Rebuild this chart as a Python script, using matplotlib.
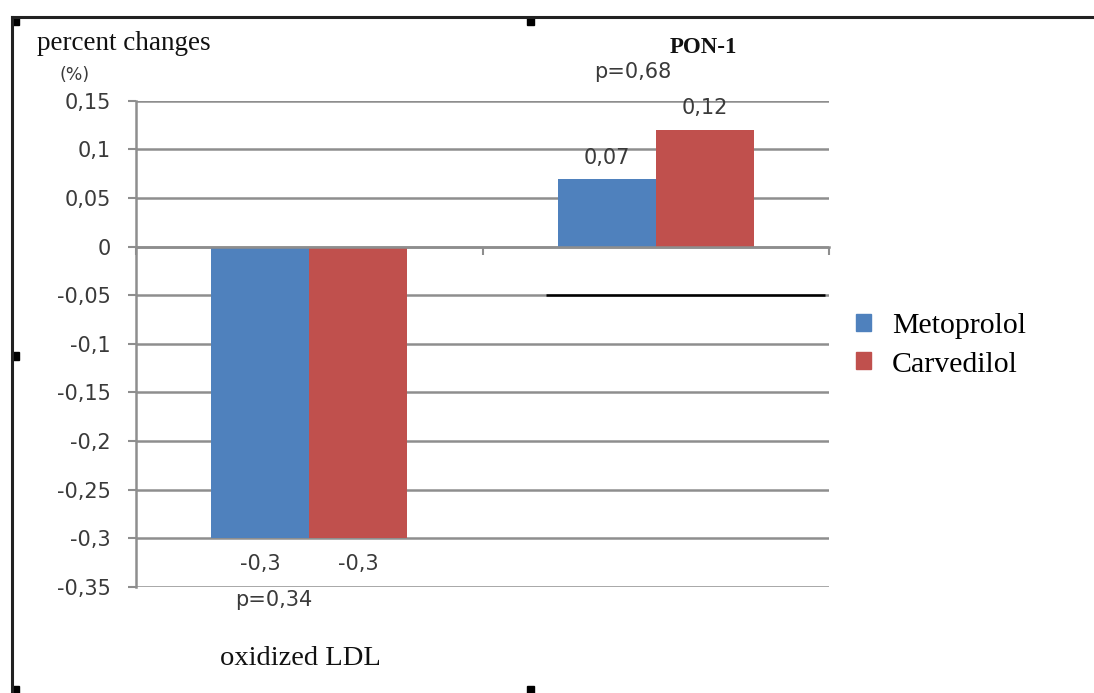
import matplotlib
matplotlib.use("Agg")
import matplotlib.pyplot as plt
from matplotlib.patches import Rectangle
from matplotlib.lines import Line2D
import numpy as np

categories = ["oxidized LDL", "PON-1"]
series_names = ["Metoprolol", "Carvedilol"]
metoprolol = [-0.3, 0.07]
carvedilol = [-0.3, 0.12]
value_labels_m = ["-0,3", "0,07"]
value_labels_c = ["-0,3", "0,12"]
p_values = ["p=0,34", "p=0,68"]
yticks = [0.15, 0.1, 0.05, 0, -0.05, -0.1, -0.15, -0.2, -0.25, -0.3, -0.35]
ytick_labels = ["0,15", "0,1", "0,05", "0", "-0,05", "-0,1", "-0,15", "-0,2", "-0,25", "-0,3", "-0,35"]

BLUE = "#4F81BD"
RED = "#C0504D"
GRID = "#8e8e8e"
TXT = "#3a3a3a"
SERIF = "Liberation Serif"
SANS = "DejaVu Sans"
NUMSIZE = 15

W, H = 1094, 693
fig = plt.figure(figsize=(W / 100, H / 100), dpi=100)

def fx(px):
    return px / W

def fy(py):
    return 1 - py / H

ax = fig.add_axes([fx(136), fy(587), fx(829) - fx(136), fy(100.7) - fy(587)])
ax.set_xlim(-0.5, 1.5)
ax.set_ylim(-0.35, 0.15)

x = np.arange(len(categories))
w = 0.283
ax.bar(x - w / 2, metoprolol, w, color=BLUE, label=series_names[0], zorder=3)
ax.bar(x + w / 2, carvedilol, w, color=RED, label=series_names[1], zorder=3)

# gridlines
ax.set_yticks(yticks)
ax.set_yticklabels(ytick_labels, fontfamily=SANS, fontsize=NUMSIZE, color=TXT)
ax.yaxis.grid(True, color=GRID, linewidth=1.8, zorder=0)
ax.set_axisbelow(True)
ax.tick_params(axis="y", direction="out", length=6, width=1.5, color=GRID, pad=12)

# spines
for s in ["top", "right"]:
    ax.spines[s].set_visible(False)
ax.spines["left"].set_color(GRID)
ax.spines["left"].set_linewidth(1.8)
ax.spines["bottom"].set_position(("data", 0))
ax.spines["bottom"].set_color(GRID)
ax.spines["bottom"].set_linewidth(1.8)
ax.spines["bottom"].set_zorder(4)
ax.set_xticks([-0.5, 0.5, 1.5])
ax.set_xticklabels(["", "", ""])
ax.tick_params(axis="x", direction="out", length=6, width=1.5, color=GRID)

# black segment at -0.05 on the right
ax.hlines(-0.05, 0.683, 1.488, color="black", linewidth=1.8, zorder=2)

# value labels
for i in range(len(categories)):
    for xi, v, lab, up in [(x[i] - w / 2, metoprolol[i], value_labels_m[i], 21),
                           (x[i] + w / 2, carvedilol[i], value_labels_c[i], 22)]:
        off = up if v >= 0 else -26
        ax.annotate(lab, (xi, v), xytext=(0, off), textcoords="offset pixels",
                    ha="center", va="center", fontfamily=SANS, fontsize=NUMSIZE, color=TXT)

# p-values and category texts
fig.text(fx(274), fy(600), p_values[0], ha="center", va="center", fontfamily=SANS, fontsize=NUMSIZE, color=TXT)
fig.text(fx(633), fy(72), p_values[1], ha="center", va="center", fontfamily=SANS, fontsize=NUMSIZE, color=TXT)
fig.text(fx(300), fy(665), categories[0], ha="center", va="baseline", fontfamily=SERIF, fontsize=20.5, color="#111111")
fig.text(fx(703), fy(53), categories[1], ha="center", va="baseline", fontfamily=SERIF, fontsize=16.5,
         fontweight="bold", color="#111111")

# axis title texts
fig.text(fx(37), fy(50), "percent changes", ha="left", va="baseline", fontfamily=SERIF, fontsize=19.5, color="#111111")
fig.text(fx(75), fy(75), "(%)", ha="center", va="center", fontfamily=SANS, fontsize=12.5, color=TXT)

# legend
leg = fig.legend(handles=[Rectangle((0, 0), 1, 1, color=BLUE), Rectangle((0, 0), 1, 1, color=RED)],
                 labels=series_names, loc="upper left", bbox_to_anchor=(fx(856), fy(313)),
                 frameon=False, handlelength=0.5, handleheight=0.5, handletextpad=0.7,
                 labelspacing=0.42, prop={"family": SERIF, "size": 21.5}, borderaxespad=0, borderpad=0)

# outer frame and handles
fig.add_artist(Line2D([fx(12), fx(12)], [fy(17), 0], color="#222222", linewidth=2.2, transform=fig.transFigure))
fig.add_artist(Line2D([fx(12), 1], [fy(17), fy(17)], color="#222222", linewidth=2.2, transform=fig.transFigure))
for (hx, hy) in [(12, 17), (527, 17), (12, 352), (12, 686), (527, 686)]:
    fig.add_artist(Rectangle((fx(hx), fy(hy + 8)), 7 / W, 8 / H, color="black", transform=fig.transFigure))

fig.savefig("out.png", dpi=100)
